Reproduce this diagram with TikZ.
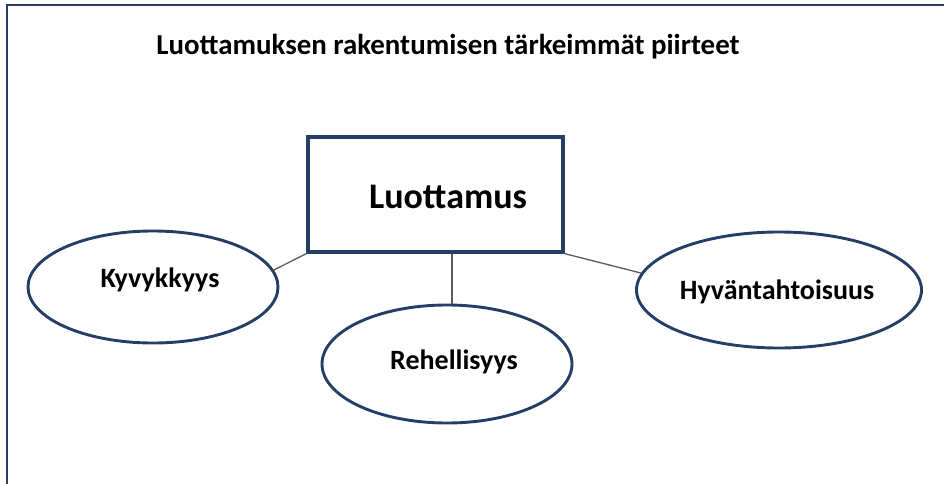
\documentclass[tikz,border=0pt]{standalone}
\usepackage{fontspec}
\setmainfont{Carlito}
\usetikzlibrary{shapes.geometric}
\definecolor{navy}{HTML}{243E66}
\definecolor{linkgray}{HTML}{5A5A5A}
\tikzset{
  mainbox/.style={draw=navy, line width=3.2pt, minimum width=255pt, minimum height=115pt, inner sep=0pt},
  trait/.style={ellipse, draw=navy, line width=2.9pt, inner sep=0pt},
  traitlabel/.style={font=\fontsize{28}{32}\selectfont\bfseries},
  link/.style={draw=linkgray, line width=1.3pt},
  frame/.style={draw=navy, line width=2pt}
}
\begin{document}
\begin{tikzpicture}[x=1pt, y=-1pt]
  \useasboundingbox (0,0) rectangle (944,484);
  % page frame: top and left edges only
  \draw[frame] (944,5) -- (7,5) -- (7,484);
  % title
  \node (title) at (448,47) {\fontsize{28.9}{34}\selectfont\bfseries Luottamuksen rakentumisen tärkeimmät piirteet};
  % central concept
  \node[mainbox] (luottamus) at (435.5,194.5) {};
  \node (luottamuslabel) at (448,197) {\fontsize{36}{40}\selectfont\bfseries Luottamus};
  % traits
  \node[trait, minimum width=250pt, minimum height=112pt] (kyvykkyys) at (153,287) {};
  \node[traitlabel] (kyvlabel) at (160,280) {Kyvykkyys};
  \node[trait, minimum width=250pt, minimum height=118pt] (rehellisyys) at (447,364) {};
  \node[traitlabel] (rehlabel) at (454,362) {Rehellisyys};
  \node[trait, minimum width=285pt, minimum height=116pt] (hyvantahtoisuus) at (779,290) {};
  \node[traitlabel] (hyvlabel) at (777,292) {Hyväntahtoisuus};
  % connectors
  \draw[link] (luottamus.south west) -- (kyvykkyys.8);
  \draw[link] (luottamus.south -| rehellisyys.north) ++(5,0) coordinate (midtop) -- (rehellisyys.north -| midtop);
  \draw[link] (luottamus.south east) -- (hyvantahtoisuus.173);
\end{tikzpicture}
\end{document}
